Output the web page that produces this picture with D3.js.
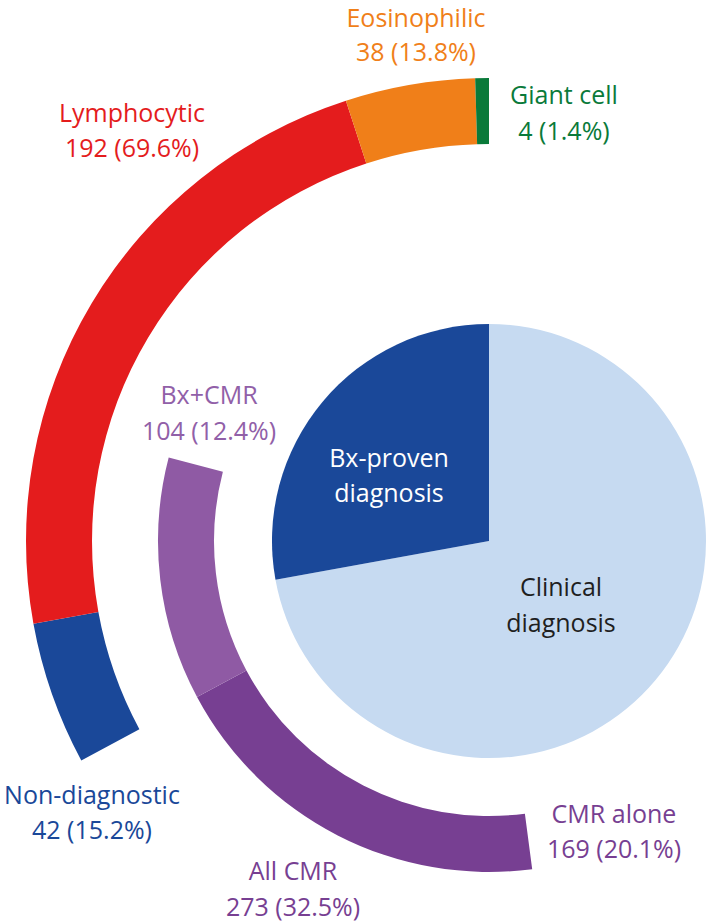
<!DOCTYPE html>
<html>
<head>
<meta charset="utf-8">
<script src="https://cdn.jsdelivr.net/npm/d3@7"></script>
<style>
  html, body { margin: 0; padding: 0; background: #ffffff; }
  svg { display: block; }
  text { font-family: "Open Sans", "Noto Sans", sans-serif; font-size: 25px; }
</style>
</head>
<body>
<svg id="chart" width="708" height="924"></svg>
<script>
// ---------------- DATA ----------------
const totalPatients = 840;

// Central pie: diagnosis type
const pieCategories = ["Clinical diagnosis", "Bx-proven diagnosis"];
const pieValues = [606, 234];

// Outer ring: biopsy results (n = 276)
const bxCategories = ["Non-diagnostic", "Lymphocytic", "Eosinophilic", "Giant cell"];
const bxValues = [42, 192, 38, 4];

// Inner ring: CMR usage
const cmrCategories = ["CMR alone", "Bx+CMR"];
const cmrValues = [169, 104];
const cmrTotalLabel = "All CMR";

// ---------------- LAYOUT / STYLE ----------------
const cx = 489, cy = 541;
const deg = d => d * Math.PI / 180;
const tau = 2 * Math.PI;

const pieColors = { "Clinical diagnosis": "#c6daf1", "Bx-proven diagnosis": "#1a4899" };
const bxColors = { "Non-diagnostic": "#1a4899", "Lymphocytic": "#e41c1d", "Eosinophilic": "#f07f19", "Giant cell": "#0a7a3a" };
const cmrColors = { "CMR alone": "#773f92", "Bx+CMR": "#8f5aa4" };

const labelPos = {
  "Eosinophilic": [416, 27, 61],
  "Giant cell": [564, 104, 140],
  "Lymphocytic": [132, 122, 157],
  "Non-diagnostic": [92, 804, 839],
  "Bx+CMR": [209, 404, 440],
  "CMR alone": [614, 823, 858],
  "All CMR": [293, 880, 916]
};
const pieLabelPos = {
  "Bx-proven diagnosis": [389, 467, 502],
  "Clinical diagnosis": [561, 596, 632]
};
const pieTextColor = { "Bx-proven diagnosis": "#ffffff", "Clinical diagnosis": "#1f1f1f" };

const svg = d3.select("#chart");
const g = svg.append("g").attr("transform", `translate(${cx},${cy})`);

const fmtPct = d3.format(".1f");

// ---------------- PIE ----------------
const pie = d3.pie().sort(null).value(d => d.v).startAngle(0).endAngle(tau);
const pieData = pie(pieCategories.map((c, i) => ({ c, v: pieValues[i] })));
const pieArc = d3.arc().innerRadius(0).outerRadius(217);
g.selectAll("path.pie").data(pieData).join("path")
  .attr("class", "pie")
  .attr("d", pieArc)
  .attr("fill", d => pieColors[d.data.c]);

// ---------------- OUTER RING (biopsy) ----------------
const bxTotal = d3.sum(bxValues);
const bxAngle = d3.scaleLinear().domain([0, bxTotal])
  .range([tau * (1 - bxTotal / totalPatients), tau]);
const bxCum = d3.cumsum(bxValues);
const bxData = bxCategories.map((c, i) => ({
  c, v: bxValues[i],
  a0: bxAngle(bxCum[i] - bxValues[i]), a1: bxAngle(bxCum[i])
}));
const outerArc = d3.arc().innerRadius(397).outerRadius(463)
  .startAngle(d => d.a0).endAngle(d => d.a1);
g.selectAll("path.bx").data(bxData).join("path")
  .attr("class", "bx")
  .attr("d", outerArc)
  .attr("fill", d => bxColors[d.c]);

// ---------------- INNER RING (CMR) ----------------
const cmrTotal = d3.sum(cmrValues);
const cmrAngle = d3.scaleLinear().domain([0, cmrTotal]).range([deg(172.5), deg(284.6)]);
const cmrCum = d3.cumsum(cmrValues);
const cmrData = cmrCategories.map((c, i) => ({
  c, v: cmrValues[i],
  a0: cmrAngle(cmrCum[i] - cmrValues[i]), a1: cmrAngle(cmrCum[i])
}));
const innerArc = d3.arc().innerRadius(275).outerRadius(331)
  .startAngle(d => d.a0).endAngle(d => d.a1);
g.selectAll("path.cmr").data(cmrData).join("path")
  .attr("class", "cmr")
  .attr("d", innerArc)
  .attr("fill", d => cmrColors[d.c]);

// ---------------- LABELS ----------------
function twoLine(name, line1, line2, color) {
  const p = labelPos[name];
  const t = svg.append("g").attr("fill", color).attr("text-anchor", "middle");
  t.append("text").attr("x", p[0]).attr("y", p[1]).text(line1);
  t.append("text").attr("x", p[0]).attr("y", p[2]).text(line2);
}
bxData.forEach(d => {
  twoLine(d.c, d.c, `${d.v} (${fmtPct(d.v / bxTotal * 100)}%)`, bxColors[d.c]);
});
cmrData.forEach(d => {
  twoLine(d.c, d.c, `${d.v} (${fmtPct(d.v / totalPatients * 100)}%)`,
    d.c === "Bx+CMR" ? "#9160a8" : cmrColors[d.c]);
});
twoLine(cmrTotalLabel, cmrTotalLabel, `${cmrTotal} (${fmtPct(cmrTotal / totalPatients * 100)}%)`, cmrColors["CMR alone"]);

pieCategories.forEach(c => {
  const p = pieLabelPos[c];
  const words = c.split(" ");
  const t = svg.append("g").attr("fill", pieTextColor[c]).attr("text-anchor", "middle");
  t.append("text").attr("x", p[0]).attr("y", p[1]).text(words[0]);
  t.append("text").attr("x", p[0]).attr("y", p[2]).text(words[1]);
});
</script>
</body>
</html>
